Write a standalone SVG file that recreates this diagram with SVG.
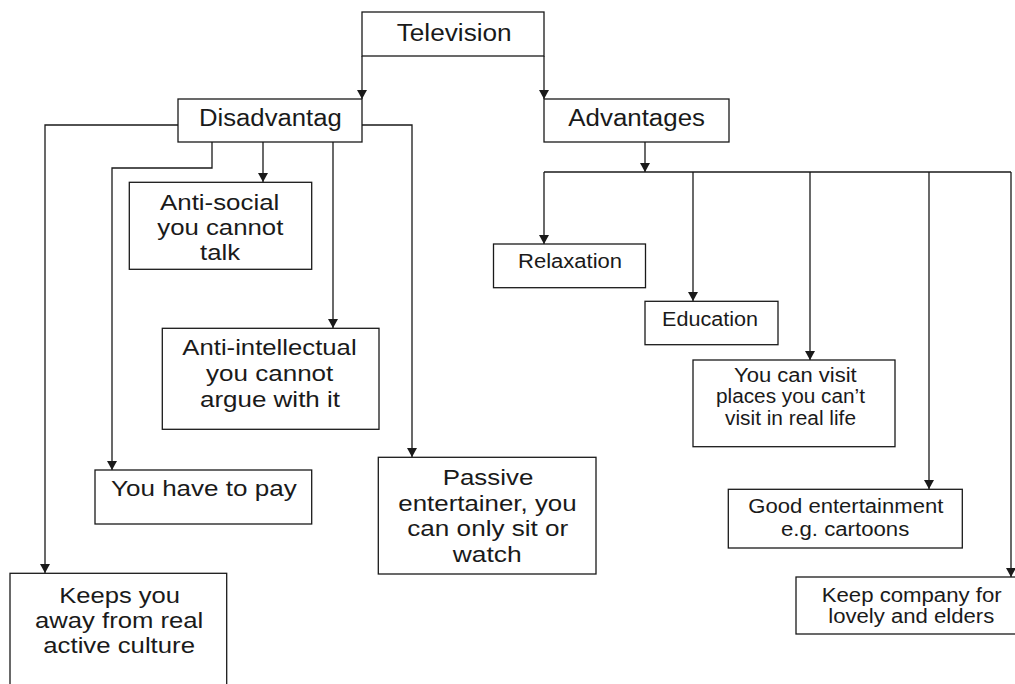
<svg xmlns="http://www.w3.org/2000/svg" width="1015" height="684" viewBox="0 0 1015 684">
<style>
.box{fill:#fff;stroke:#1a1a1a;stroke-width:1.3}
.conn path{fill:none;stroke:#1a1a1a;stroke-width:1.3}
text{font-family:"Liberation Sans",Arial,sans-serif;fill:#1a1a1a}
.h{font-size:23px}
.l{font-size:22px}
.r{font-size:19.5px}
</style>
<defs>
<marker id="arr" markerUnits="userSpaceOnUse" markerWidth="10" markerHeight="11" refX="9" refY="5" orient="auto" viewBox="0 0 10 10">
<path d="M0,0 L9,5 L0,10 Z" fill="#1a1a1a"/>
</marker>
</defs>
<rect width="1015" height="684" fill="#fff"/>
<g class="conn">
<path d="M362,56 V99" marker-end="url(#arr)"/>
<path d="M544,56 V99" marker-end="url(#arr)"/>
<path d="M178,125 H45 V573" marker-end="url(#arr)"/>
<path d="M212,142 V168 H112 V470" marker-end="url(#arr)"/>
<path d="M263,142 V182" marker-end="url(#arr)"/>
<path d="M333,142 V328" marker-end="url(#arr)"/>
<path d="M362,125 H412 V457" marker-end="url(#arr)"/>
<path d="M645,142 V172" marker-end="url(#arr)"/>
<path d="M544,172 H1011"/>
<path d="M544,172 V244" marker-end="url(#arr)"/>
<path d="M693,172 V301" marker-end="url(#arr)"/>
<path d="M810,172 V360" marker-end="url(#arr)"/>
<path d="M929,172 V489" marker-end="url(#arr)"/>
<path d="M1011,172 V577" marker-end="url(#arr)"/>
</g>
<g id="television">
<rect class="box" x="362" y="12" width="182" height="44"/>
<text class="h" x="396.7" y="40.5" textLength="115" lengthAdjust="spacingAndGlyphs">Television</text>
</g>
<g id="disadvantages">
<rect class="box" x="178" y="99" width="184" height="43"/>
<text class="h" x="199" y="125.5" textLength="142.7" lengthAdjust="spacingAndGlyphs">Disadvantag</text>
</g>
<g id="advantages">
<rect class="box" x="544" y="99" width="185" height="43"/>
<text class="h" x="568.3" y="125.5" textLength="136.7" lengthAdjust="spacingAndGlyphs">Advantages</text>
</g>
<g id="anti-social">
<rect class="box" x="129.3" y="182.3" width="182.4" height="87"/>
<text class="l" x="160" y="210" textLength="119.3" lengthAdjust="spacingAndGlyphs">Anti-social</text>
<text class="l" x="157.3" y="235" textLength="126" lengthAdjust="spacingAndGlyphs">you cannot</text>
<text class="l" x="200" y="260" textLength="40" lengthAdjust="spacingAndGlyphs">talk</text>
</g>
<g id="anti-intellectual">
<rect class="box" x="162.3" y="328.3" width="216.7" height="101"/>
<text class="l" x="182.3" y="355" textLength="174.3" lengthAdjust="spacingAndGlyphs">Anti-intellectual</text>
<text class="l" x="206" y="381" textLength="127.3" lengthAdjust="spacingAndGlyphs">you cannot</text>
<text class="l" x="200" y="406.5" textLength="140" lengthAdjust="spacingAndGlyphs">argue with it</text>
</g>
<g id="pay">
<rect class="box" x="95" y="470" width="216.7" height="54"/>
<text class="l" x="111" y="496" textLength="185.7" lengthAdjust="spacingAndGlyphs">You have to pay</text>
</g>
<g id="passive">
<rect class="box" x="378.3" y="457.3" width="217.7" height="116.7"/>
<text class="l" x="442.7" y="485" textLength="90.7" lengthAdjust="spacingAndGlyphs">Passive</text>
<text class="l" x="398.3" y="511" textLength="178.3" lengthAdjust="spacingAndGlyphs">entertainer, you</text>
<text class="l" x="407.3" y="536" textLength="161" lengthAdjust="spacingAndGlyphs">can only sit or</text>
<text class="l" x="452.7" y="561.7" textLength="69" lengthAdjust="spacingAndGlyphs">watch</text>
</g>
<g id="keeps-away">
<rect class="box" x="10" y="573.3" width="216.7" height="125"/>
<text class="l" x="59.3" y="603.3" textLength="120.7" lengthAdjust="spacingAndGlyphs">Keeps you</text>
<text class="l" x="35" y="628.3" textLength="168.3" lengthAdjust="spacingAndGlyphs">away from real</text>
<text class="l" x="43.3" y="652.7" textLength="151.7" lengthAdjust="spacingAndGlyphs">active culture</text>
</g>
<g id="relaxation">
<rect class="box" x="493.5" y="244" width="152" height="43.7"/>
<text class="r" x="518" y="268.3" textLength="104" lengthAdjust="spacingAndGlyphs">Relaxation</text>
</g>
<g id="education">
<rect class="box" x="645" y="301.3" width="133" height="43.4"/>
<text class="r" x="662" y="325.7" textLength="96" lengthAdjust="spacingAndGlyphs">Education</text>
</g>
<g id="visit">
<rect class="box" x="693" y="360" width="202" height="86.7"/>
<text class="r" x="734" y="381.7" textLength="122.7" lengthAdjust="spacingAndGlyphs">You can visit</text>
<text class="r" x="716" y="403.3" textLength="149" lengthAdjust="spacingAndGlyphs">places you can’t</text>
<text class="r" x="725" y="425" textLength="131" lengthAdjust="spacingAndGlyphs">visit in real life</text>
</g>
<g id="good-entertainment">
<rect class="box" x="728.3" y="489.3" width="234" height="58.7"/>
<text class="r" x="748.3" y="512.7" textLength="195" lengthAdjust="spacingAndGlyphs">Good entertainment</text>
<text class="r" x="781" y="536" textLength="128.3" lengthAdjust="spacingAndGlyphs">e.g. cartoons</text>
</g>
<g id="keep-company">
<rect class="box" x="796" y="577" width="225" height="57"/>
<text class="r" x="821.7" y="601.7" textLength="180" lengthAdjust="spacingAndGlyphs">Keep company for</text>
<text class="r" x="828.3" y="623.3" textLength="166" lengthAdjust="spacingAndGlyphs">lovely and elders</text>
</g>
</svg>
